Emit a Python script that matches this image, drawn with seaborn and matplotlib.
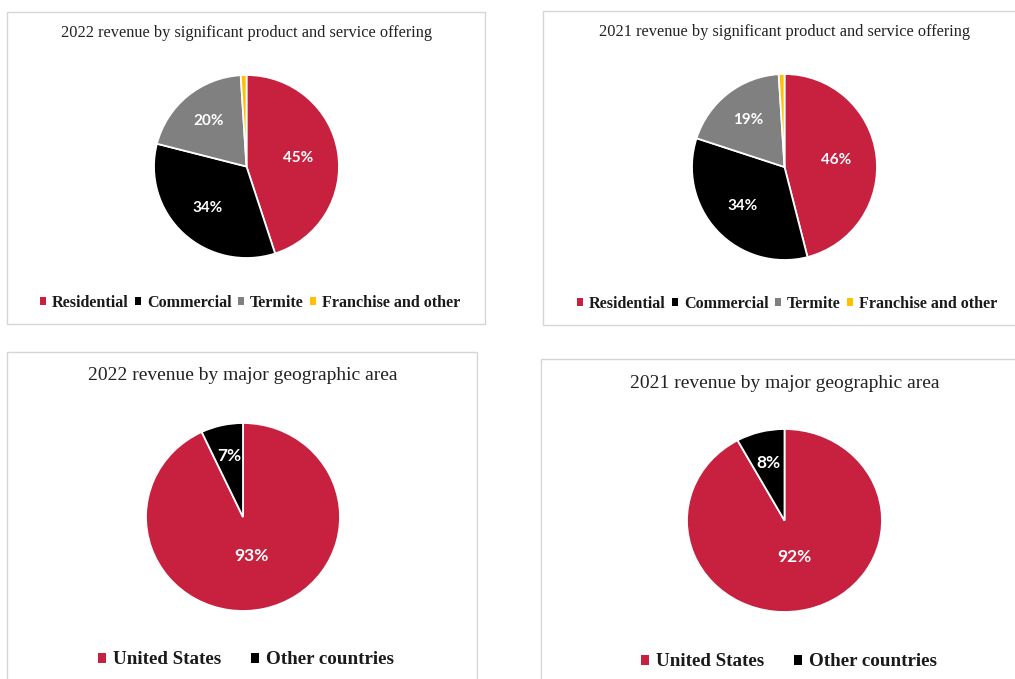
import matplotlib
matplotlib.use("Agg")
import matplotlib.pyplot as plt
import seaborn as sns
import numpy as np
from matplotlib.patches import Rectangle, Patch

sns.set_theme(style="white")

# ---- data ----
offering_labels = ["Residential", "Commercial", "Termite", "Franchise and other"]
offering_2022 = [45, 34, 20, 1]
offering_2021 = [46, 34, 19, 1]
geo_labels = ["United States", "Other countries"]
geo_2022 = [93, 7]
geo_2021 = [92, 8]
titles = [
    "2022 revenue by significant product and service offering",
    "2021 revenue by significant product and service offering",
    "2022 revenue by major geographic area",
    "2021 revenue by major geographic area",
]

offering_colors = ["#C8203F", "#000000", "#808080", "#FFC000"]
geo_colors = ["#C8203F", "#000000"]

W, H = 1015, 679
fig = plt.figure(figsize=(W / 100, H / 100), dpi=100)
fig.patch.set_facecolor("white")


def fx(x):
    return x / W


def fy(y):
    return 1 - y / H


def border(x0, y0, x1, y1):
    fig.add_artist(Rectangle((fx(x0), fy(y1)), (x1 - x0) / W, (y1 - y0) / H,
                             transform=fig.transFigure, fill=False,
                             edgecolor="#D6D6D6", lw=1.0))


def draw_pie(box, values, colors, dists, pct_size):
    x0, y0, x1, y1 = box
    ax = fig.add_axes([fx(x0), fy(y1), (x1 - x0) / W, (y1 - y0) / H])
    wedges, texts, autotexts = ax.pie(
        values, colors=colors, startangle=90, counterclock=False,
        autopct=lambda p: f"{p:.0f}%" if p >= 5 else "",
        wedgeprops=dict(edgecolor="white", linewidth=1.3),
        textprops=dict(color="white", fontweight="bold", family="Lato",
                       fontsize=pct_size))
    for w, t, d in zip(wedges, autotexts, dists):
        th = np.deg2rad((w.theta1 + w.theta2) / 2)
        t.set_position((d * np.cos(th), d * np.sin(th)))
        t.set_ha("center")
        t.set_va("center")
    ax.set_aspect("auto")
    ax.set_xlim(-1, 1)
    ax.set_ylim(-1, 1)
    ax.axis("off")
    return ax


# borders
border(7, 12, 485, 324)
border(543, 11, 1030, 325)
border(7, 352, 477, 690)
border(541, 359, 1030, 690)

# pies
draw_pie((154, 75, 339, 258), offering_2022, offering_colors, [0.56, 0.62, 0.64, 0.6], 11)
draw_pie((692, 74, 877, 260), offering_2021, offering_colors, [0.56, 0.62, 0.64, 0.6], 11)
draw_pie((146, 423, 340, 611), geo_2022, geo_colors, [0.42, 0.67], 12.5)
draw_pie((687, 429, 882, 612), geo_2021, geo_colors, [0.41, 0.65], 12.5)

# titles
title_font = dict(family="Liberation Serif", color="#222222", ha="center", va="center")
fig.text(fx(247), fy(33), titles[0], fontsize=11.8, **title_font)
fig.text(fx(785), fy(32), titles[1], fontsize=11.8, **title_font)
fig.text(fx(243), fy(375), titles[2], fontsize=14, **title_font)
fig.text(fx(785), fy(383), titles[3], fontsize=14, **title_font)

# legends
def legend(labels, colors, cx, cy, size, colsp, hl):
    handles = [Patch(facecolor=c, edgecolor="none") for c in colors]
    fig.legend(handles=handles, labels=labels, loc="center",
               bbox_to_anchor=(fx(cx), fy(cy)), ncol=len(labels), frameon=False,
               prop=dict(family="Liberation Serif", weight="bold", size=size),
               handlelength=hl, handleheight=hl, handletextpad=0.35,
               columnspacing=colsp, labelcolor="#1a1a1a")


legend(offering_labels, offering_colors, 250, 303, 11.6, 0.4, 0.38)
legend(offering_labels, offering_colors, 787, 304, 11.6, 0.4, 0.38)
legend(geo_labels, geo_colors, 246, 660, 13.7, 1.6, 0.42)
legend(geo_labels, geo_colors, 789, 662, 13.7, 1.6, 0.42)

fig.savefig("out.png", dpi=100, facecolor="white")
